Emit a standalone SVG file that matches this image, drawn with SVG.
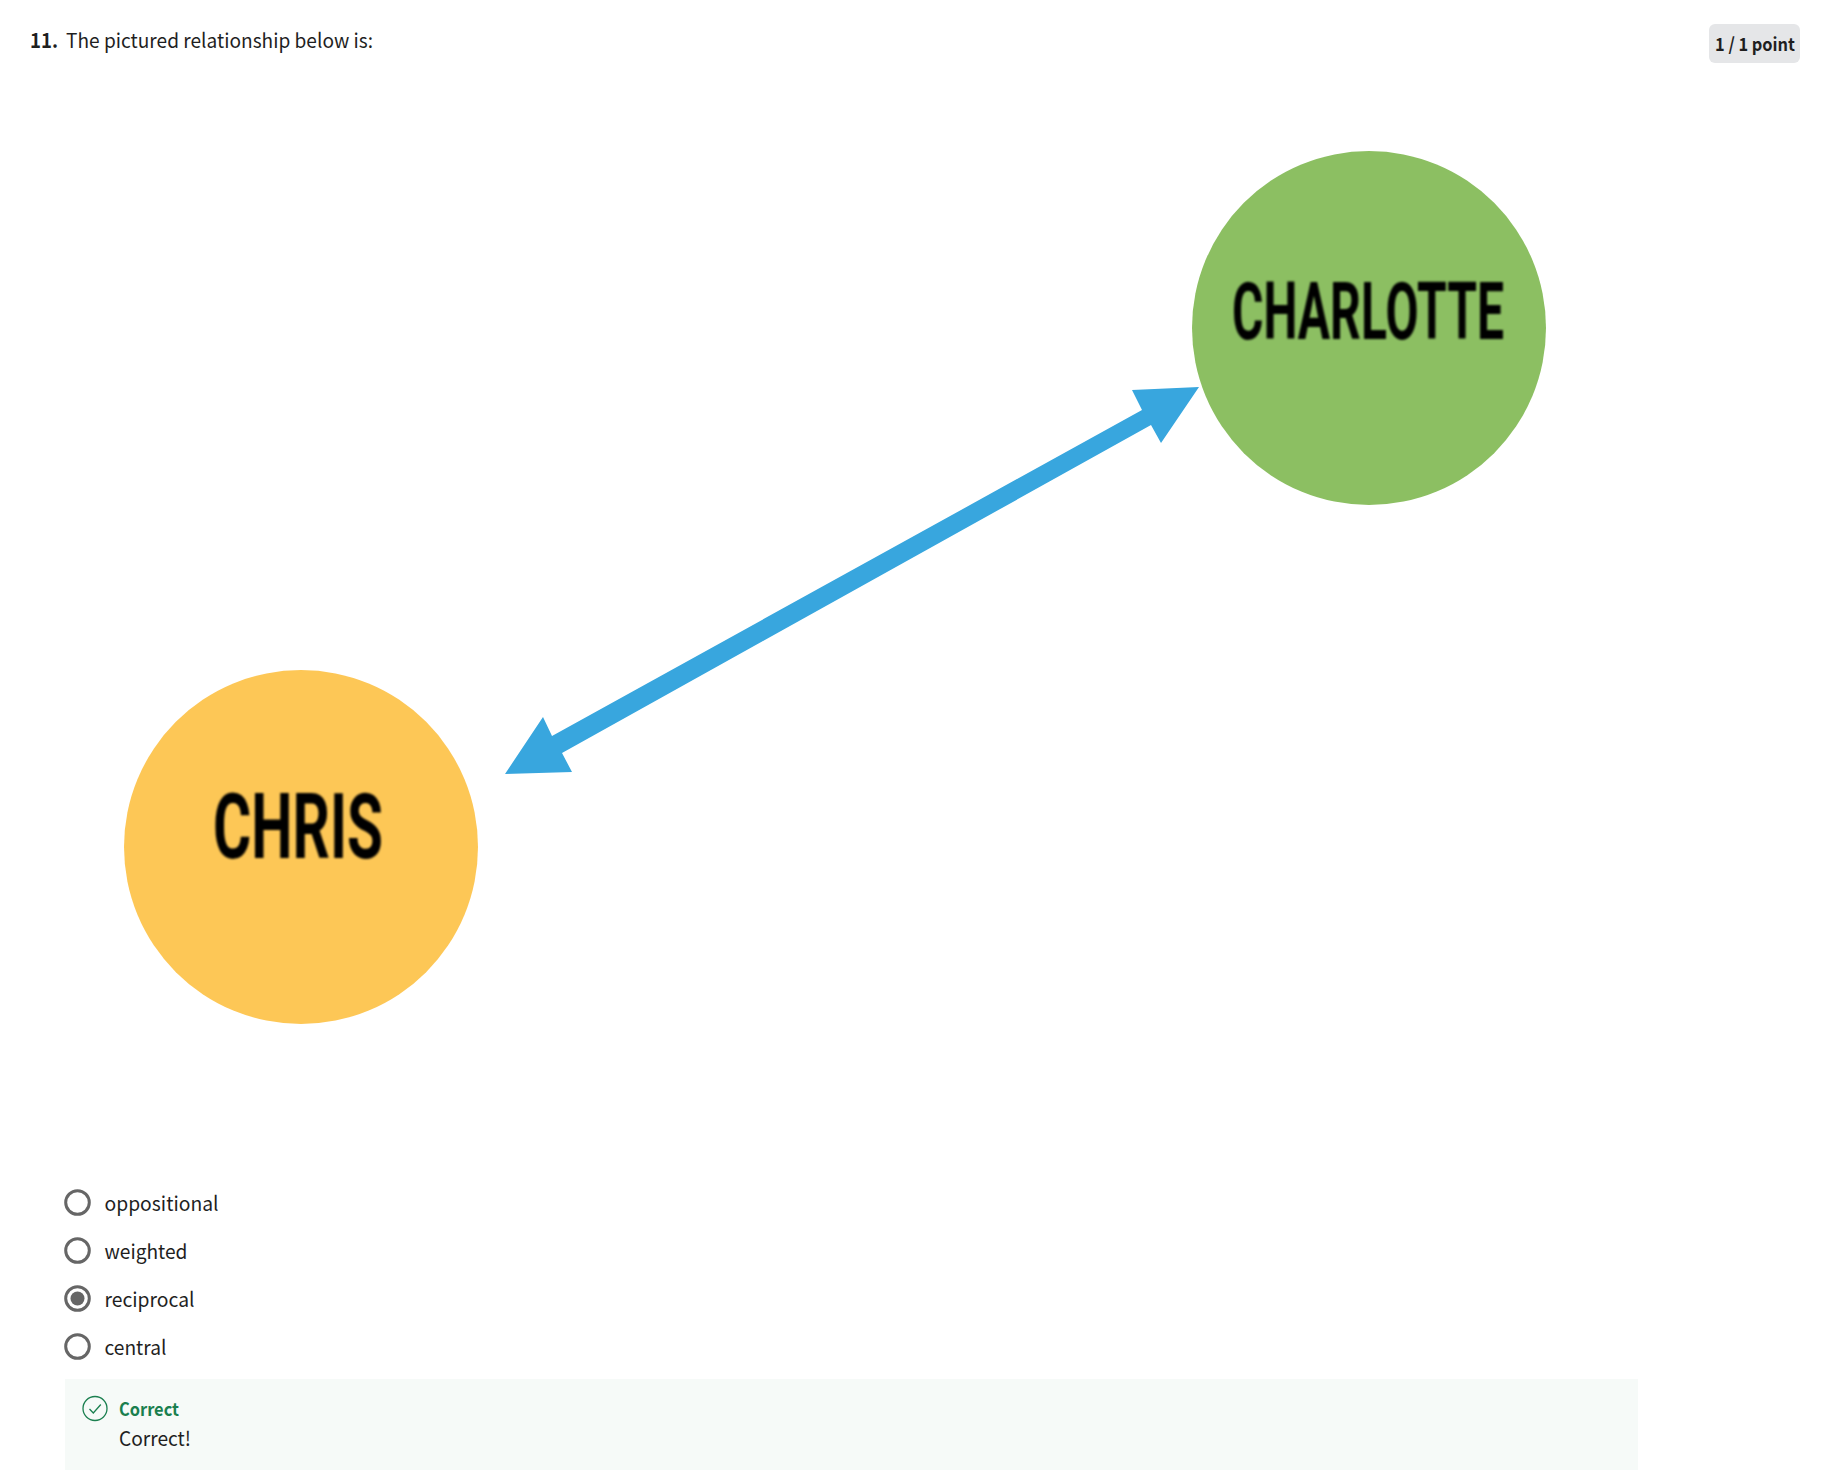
<svg xmlns="http://www.w3.org/2000/svg" width="1838" height="1480" viewBox="0 0 1838 1480">
<defs>
<style>
text{font-family:"Noto Sans CJK SC","Noto Sans",sans-serif;fill:#1f1f1f}
.t{font-size:20px}
.b{font-weight:700}
.n{font-family:"Roboto","Liberation Sans",sans-serif;font-weight:700;fill:#000;filter:url(#soft)}
.r{fill:#fff;stroke:#666;stroke-width:3}
</style>
<filter id="soft" x="-5%" y="-10%" width="110%" height="120%"><feGaussianBlur stdDeviation="0.9"/></filter>
<filter id="soft2" x="-5%" y="-5%" width="110%" height="110%"><feGaussianBlur stdDeviation="0.7"/></filter>
</defs>
<rect width="1838" height="1480" fill="#fff"/>
<g id="question">
<text class="t b" x="30" y="48" textLength="28" lengthAdjust="spacingAndGlyphs">11.</text>
<text class="t" x="66" y="48" textLength="307" lengthAdjust="spacingAndGlyphs">The pictured relationship below is:</text>
</g>
<g id="badge">
<rect x="1709" y="24" width="91" height="39" rx="6" fill="#e5e6e8"/>
<text class="b" x="1715" y="51" font-size="18" textLength="80" lengthAdjust="spacingAndGlyphs">1 / 1 point</text>
</g>
<g id="connectors">
<polygon filter="url(#soft2)" fill="#37a6de" points="1199,387 1132,390 1142,410 552,736 543,717 505,774 572,772 562,753 1151,425 1161,443"/>
</g>
<g id="charlotte">
<circle cx="1369" cy="328" r="177" fill="#8cbf62" filter="url(#soft2)"/>
<text class="n" x="1232" y="338.500" font-size="80" textLength="272" lengthAdjust="spacingAndGlyphs">CHARLOTTE</text>
</g>
<g id="chris">
<circle cx="301" cy="847" r="177" fill="#fdc757" filter="url(#soft2)"/>
<text class="n" x="213" y="858" font-size="90" textLength="170" lengthAdjust="spacingAndGlyphs">CHRIS</text>
</g>
<g id="option-oppositional">
<circle class="r" cx="77.5" cy="1202.500" r="11.8"/>
<text class="t" x="104.5" y="1211" textLength="114" lengthAdjust="spacingAndGlyphs">oppositional</text>
</g>
<g id="option-weighted">
<circle class="r" cx="77.5" cy="1250.500" r="11.8"/>
<text class="t" x="104.5" y="1259" textLength="83" lengthAdjust="spacingAndGlyphs">weighted</text>
</g>
<g id="option-reciprocal">
<circle class="r" cx="77.5" cy="1298.500" r="11.8"/>
<circle cx="77.5" cy="1298.500" r="7" fill="#666"/>
<text class="t" x="104.5" y="1307" textLength="90" lengthAdjust="spacingAndGlyphs">reciprocal</text>
</g>
<g id="option-central">
<circle class="r" cx="77.5" cy="1346.500" r="11.8"/>
<text class="t" x="104.5" y="1355" textLength="62" lengthAdjust="spacingAndGlyphs">central</text>
</g>
<g id="feedback">
<rect x="65" y="1379" width="1573" height="91" fill="#f6faf8"/>
<circle cx="95" cy="1408.500" r="12" fill="none" stroke="#1a7f4f" stroke-width="1.3"/>
<path d="M89.5 1409l3.800 4 7.500-8.500" fill="none" stroke="#1a7f4f" stroke-width="1.3"/>
<text class="b" x="119" y="1416" font-size="18" textLength="60" lengthAdjust="spacingAndGlyphs" style="fill:#1a7f4f">Correct</text>
<text class="t" x="119" y="1446" textLength="72" lengthAdjust="spacingAndGlyphs">Correct!</text>
</g>
</svg>
